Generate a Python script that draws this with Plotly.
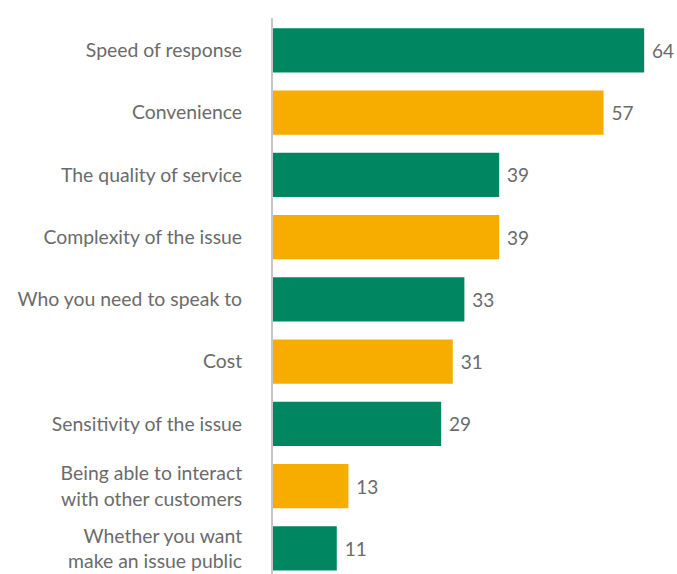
import plotly.graph_objects as go

categories = ["Speed of response", "Convenience", "The quality of service",
              "Complexity of the issue", "Who you need to speak to", "Cost",
              "Sensitivity of the issue", "Being able to interact<br>with other customers",
              "Whether you want<br>make an issue public"]
values = [64, 57, 39, 39, 33, 31, 29, 13, 11]
GREEN = "#008762"
ORANGE = "#F7AC00"
colors = [GREEN if i % 2 == 0 else ORANGE for i in range(len(values))]

idx = list(range(len(values)))
fig = go.Figure(go.Bar(
    x=values, y=idx, orientation="h",
    marker=dict(color=colors, line=dict(width=0)),
    text=[" " + str(v) for v in values], textposition="outside",
    textfont=dict(color="#6b6b6b", size=19, family="Lato"),
    cliponaxis=False, width=0.71, hoverinfo="skip",
))
fig.update_layout(
    width=677, height=574,
    margin=dict(l=273, r=0, t=18, b=0),
    paper_bgcolor="white", plot_bgcolor="white",
    font=dict(family="Lato", color="#6b6b6b", size=19.4),
    showlegend=False,
)
fig.update_xaxes(range=[0, 69.66], visible=False)
fig.update_yaxes(range=[8.41, -0.52], tickvals=idx, ticktext=categories,
                 showline=True, linecolor="#c6c6c6", linewidth=2,
                 showgrid=False, zeroline=False, ticks="", ticklabelstandoff=25)
fig.write_html("out.html", config={"displayModeBar": False},
               post_script="document.body.style.margin='0';document.body.style.overflow='hidden';")
